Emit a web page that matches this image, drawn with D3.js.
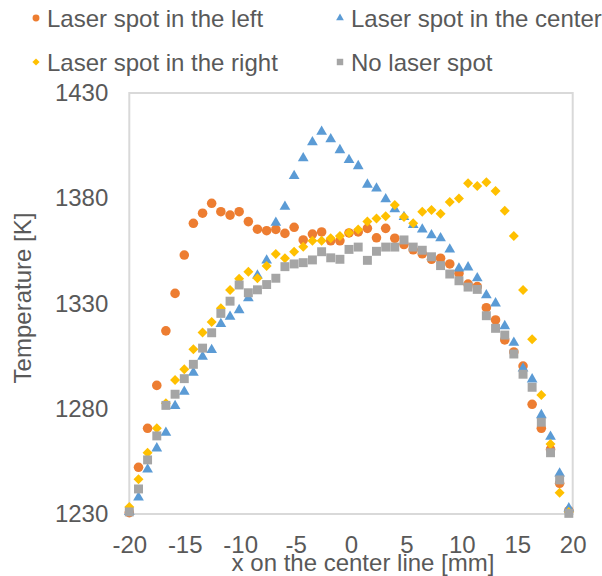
<!DOCTYPE html>
<html lang="en">
<head>
    <meta charset="UTF-8">
    <title>Temperature on the center line</title>
    <script src="https://d3js.org/d3.v7.min.js"></script>
    <style>
        body { margin: 0; background: #fff; }
        svg text { font-family: "Liberation Sans", Arial, sans-serif; fill: #595959; }
    </style>
</head>
<body>
<div id="chart"></div>
<script>
// x positions of the samples [mm]
const xValues = [-20.00, -19.17, -18.35, -17.52, -16.70, -15.87, -15.04, -14.22, -13.39, -12.57,
    -11.74, -10.91, -10.09, -9.26, -8.44, -7.61, -6.78, -5.96, -5.13, -4.31,
    -3.48, -2.65, -1.83, -1.00, -0.18, 0.65, 1.48, 2.30, 3.13, 3.95,
    4.78, 5.61, 6.43, 7.26, 8.08, 8.91, 9.74, 10.56, 11.39, 12.21,
    13.04, 13.87, 14.69, 15.52, 16.34, 17.17, 18.00, 18.82, 19.65];

// temperatures [K]
const leftSpot = [1230.6, 1252.2, 1270.7, 1291.1, 1317.0, 1334.8, 1353.0, 1368.1, 1372.9, 1377.6,
    1373.6, 1372.0, 1373.6, 1368.9, 1365.3, 1364.6, 1365.2, 1363.3, 1366.2, 1360.2,
    1363.0, 1364.0, 1359.8, 1359.8, 1363.5, 1364.0, 1365.7, 1361.2, 1365.7, 1361.0,
    1358.0, 1355.5, 1353.6, 1351.0, 1351.5, 1348.8, 1344.3, 1339.2, 1338.0, 1328.0,
    1322.2, 1312.7, 1307.0, 1300.3, 1282.1, 1270.7, 1260.7, 1244.6, 1231.6];
const centerSpot = [1231.0, 1237.9, 1251.2, 1261.2, 1268.6, 1281.3, 1288.1, 1297.1, 1304.7, 1307.9,
    1320.3, 1323.7, 1326.9, 1332.5, 1343.3, 1350.5, 1368.4, 1376.0, 1390.6, 1399.0,
    1406.6, 1411.6, 1408.1, 1402.9, 1398.2, 1395.3, 1386.5, 1384.7, 1379.6, 1374.8,
    1371.1, 1367.3, 1365.2, 1362.5, 1361.0, 1355.7, 1346.7, 1347.2, 1342.0, 1334.0,
    1330.1, 1319.3, 1311.4, 1299.2, 1294.0, 1277.0, 1266.7, 1249.3, 1232.7];
const rightSpot = [1233.3, 1246.5, 1259.1, 1270.7, 1282.6, 1293.7, 1298.8, 1308.3, 1316.2, 1321.2,
    1327.7, 1336.4, 1341.8, 1345.1, 1342.0, 1347.8, 1353.5, 1351.5, 1354.6, 1357.0,
    1359.8, 1359.8, 1361.0, 1362.1, 1363.6, 1365.2, 1368.9, 1370.4, 1371.4, 1376.8,
    1371.1, 1368.1, 1373.6, 1374.4, 1372.6, 1378.2, 1379.9, 1387.1, 1385.8, 1387.6,
    1383.4, 1374.1, 1362.1, 1336.4, 1313.0, 1286.5, 1263.3, 1240.1, 1231.0];
const noSpot = [1231.0, 1241.9, 1255.7, 1267.1, 1281.6, 1286.9, 1294.3, 1301.1, 1308.8, 1316.1,
    1325.3, 1331.1, 1338.8, 1335.1, 1336.5, 1339.0, 1342.0, 1347.5, 1348.8, 1349.4,
    1350.7, 1354.6, 1351.7, 1351.0, 1355.7, 1356.8, 1350.5, 1354.8, 1356.8, 1356.8,
    1360.2, 1356.8, 1355.3, 1352.2, 1348.0, 1344.0, 1340.8, 1337.8, 1336.7, 1324.2,
    1318.2, 1315.0, 1306.0, 1296.4, 1290.2, 1273.6, 1259.1, 1246.2, 1230.3];

const seriesNames = ["Laser spot in the left", "Laser spot in the center", "Laser spot in the right", "No laser spot"];
const xTicks = [-20, -15, -10, -5, 0, 5, 10, 15, 20];
const yTicks = [1230, 1280, 1330, 1380, 1430];

const width = 602, height = 576;
const plot = {left: 129.3, right: 572.7, top: 93, bottom: 514};

const series = [
    {name: seriesNames[0], values: leftSpot, color: "#ED7D31", shape: "circle"},
    {name: seriesNames[1], values: centerSpot, color: "#5B9BD5", shape: "triangle"},
    {name: seriesNames[2], values: rightSpot, color: "#FFC000", shape: "diamond"},
    {name: seriesNames[3], values: noSpot, color: "#A5A5A5", shape: "square"}
];

const svg = d3.select("#chart").append("svg")
    .attr("width", width)
    .attr("height", height);

const x = d3.scaleLinear().domain([-20, 20]).range([plot.left, plot.right]);
const y = d3.scaleLinear().domain([1230, 1430]).range([plot.bottom, plot.top]);

// marker path for a given shape and scale
function marker(shape, k) {
    if (shape === "circle") return d3.symbol(d3.symbolCircle, 72 * k * k)();
    if (shape === "triangle") return d3.symbol(d3.symbolTriangle, 50 * k * k)();
    if (shape === "square") return d3.symbol(d3.symbolSquare, 80 * k * k)();
    return d3.symbol(d3.symbolSquare, 50 * k * k)(); // diamond, rotated later
}

// axes (plain hyphen minus, no thousands separator)
const xAxis = svg.append("g")
    .attr("transform", `translate(0,${plot.bottom})`)
    .call(d3.axisBottom(x).tickValues(xTicks).tickSize(0).tickPadding(22).tickFormat(d => String(d)));
const yAxis = svg.append("g")
    .attr("transform", `translate(${plot.left},0)`)
    .call(d3.axisLeft(y).tickValues(yTicks).tickSize(0).tickPadding(21).tickFormat(d => String(d)));
[xAxis, yAxis].forEach(g => {
    g.select(".domain").remove();
    g.selectAll("text").style("font-size", "24px").attr("fill", "#595959")
        .style("font-family", "'Liberation Sans', Arial, sans-serif");
});

// plot frame
svg.append("rect")
    .attr("x", plot.left).attr("y", plot.top)
    .attr("width", plot.right - plot.left).attr("height", plot.bottom - plot.top)
    .attr("fill", "none").attr("stroke", "#D9D9D9").attr("stroke-width", 2);

// points
series.forEach(s => {
    svg.append("g").selectAll("path")
        .data(s.values.map((v, i) => [xValues[i], v]))
        .enter().append("path")
        .attr("d", marker(s.shape, 1))
        .attr("transform", d => `translate(${x(d[0])},${y(d[1])})` + (s.shape === "diamond" ? " rotate(45)" : ""))
        .attr("fill", s.color);
});

// axis titles
svg.append("text")
    .attr("x", 363).attr("y", 571)
    .attr("text-anchor", "middle")
    .style("font-size", "24px")
    .text("x on the center line [mm]");
svg.append("text")
    .attr("transform", "translate(31,298) rotate(-90)")
    .attr("text-anchor", "middle")
    .style("font-size", "24px")
    .text("Temperature [K]");

// legend
const legendPos = [[36, 18], [340, 18], [36, 62], [340, 62]];
series.forEach((s, i) => {
    const [lx, ly] = legendPos[i];
    svg.append("path")
        .attr("d", marker(s.shape, 0.72))
        .attr("transform", `translate(${lx},${ly})` + (s.shape === "diamond" ? " rotate(45)" : ""))
        .attr("fill", s.color);
    svg.append("text")
        .attr("x", lx + 11).attr("y", ly + 8.5)
        .style("font-size", "24px")
        .text(s.name);
});
</script>
</body>
</html>
